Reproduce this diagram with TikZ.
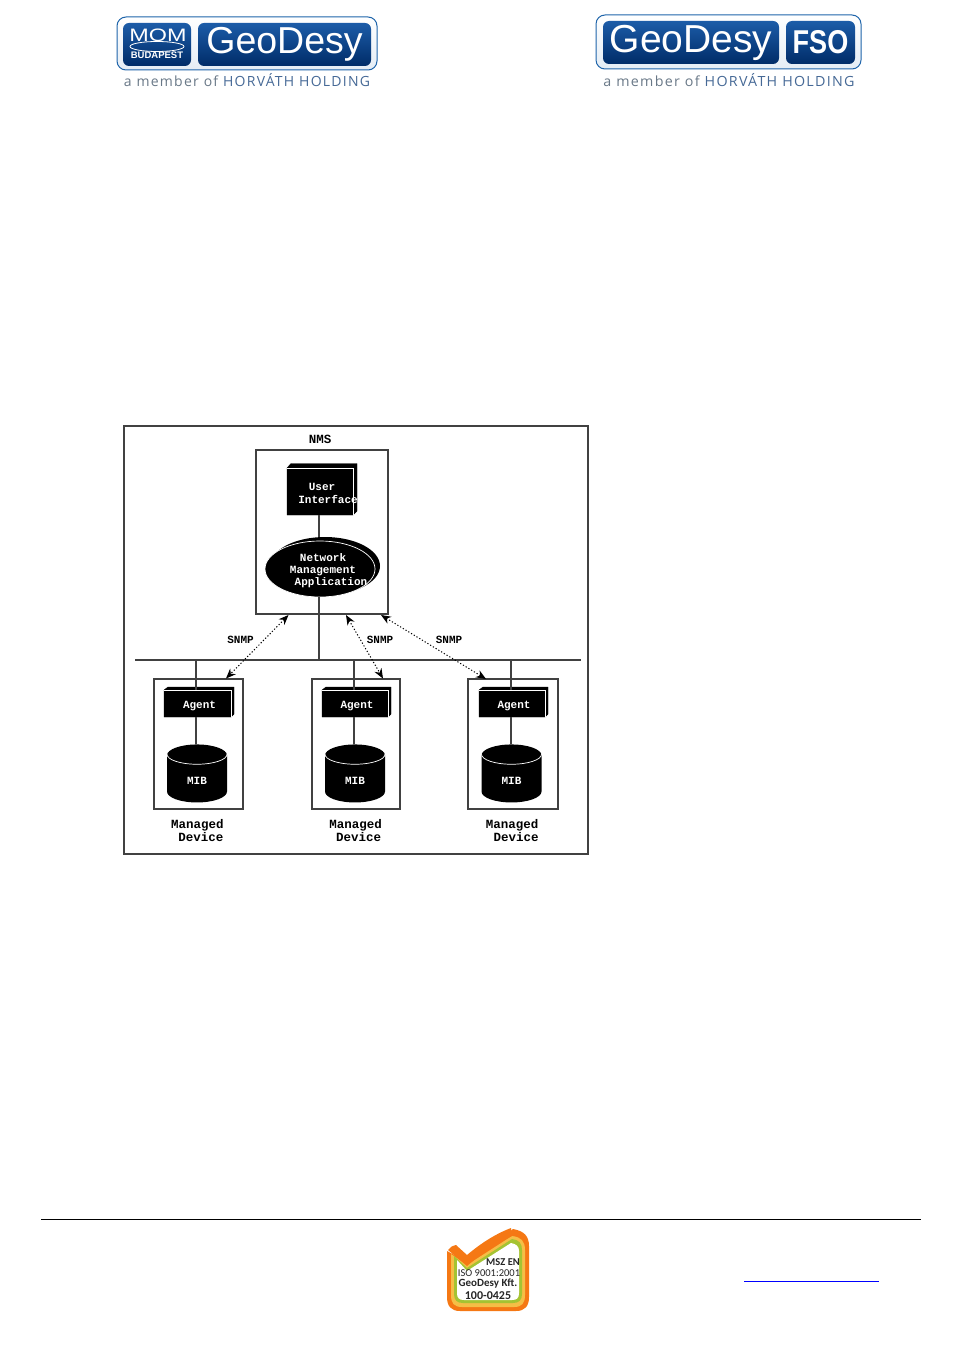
\documentclass[tikz,border=0pt]{standalone}
\usepackage{fontspec}
\setmainfont{Liberation Sans}
\setmonofont{Liberation Mono}
\newfontfamily\tagfont[LetterSpace=9]{Open Sans}
\newfontfamily\isofont{Carlito}
\usepackage{tikz}
\usetikzlibrary{positioning,arrows.meta,shapes.geometric,calc}
\usepackage{xcolor}
\definecolor{logoedge}{RGB}{30,100,170}
\definecolor{logotop}{RGB}{28,92,168}
\definecolor{logobot}{RGB}{0,44,104}
\definecolor{taggray}{RGB}{105,120,135}
\definecolor{tagblue}{RGB}{70,105,150}
\definecolor{isoorange}{RGB}{245,120,20}
\definecolor{isogreen}{RGB}{165,195,50}
\definecolor{isoyellow}{RGB}{245,190,70}
\definecolor{linkblue}{RGB}{0,0,255}
\definecolor{linegray}{RGB}{65,65,65}

\begin{document}
\begin{tikzpicture}[x=1pt,y=-1pt,
  logoframe/.style={rectangle,rounded corners=9pt,draw=logoedge,line width=1pt,
              top color=white,bottom color=logoedge!12,inner sep=0pt},
  logobox/.style={rectangle,rounded corners=6pt,top color=logotop,bottom color=logobot,
              text=white,inner sep=0pt},
  tagline/.style={font=\tagfont\fontsize{14}{15}\selectfont,inner sep=0pt},
  framebox/.style={rectangle,draw=linegray,line width=1.1pt,fill=white,inner sep=0pt},
  blackbox/.style={rectangle,fill=black,inner sep=0pt},
  blackface/.style={fill=black,draw=black,line width=0.4pt},
  rim/.style={white,line width=0.7pt},
  conn/.style={linegray,line width=1.1pt},
  snmparr/.style={{Stealth[length=10pt,width=8pt]}-{Stealth[length=10pt,width=8pt]},black,
              dash pattern=on 1.2pt off 2pt,line width=1pt},
  lbl/.style={font=\ttfamily\bfseries\fontsize{11}{12}\selectfont,inner sep=0pt,text=black},
  biglbl/.style={font=\ttfamily\bfseries\fontsize{12.5}{13}\selectfont,inner sep=0pt,text=black},
  inlbl/.style={font=\ttfamily\bfseries\fontsize{11}{12}\selectfont,inner sep=0pt,text=white},
  mibcyl/.style={cylinder,shape border rotate=90,aspect=1.1,fill=black,inner sep=0pt,
              minimum width=60pt,minimum height=58pt,font=\ttfamily\bfseries\fontsize{11}{12}\selectfont}
]
\useasboundingbox (0,0) rectangle (953,1348);
% left logo
\node[logoframe,minimum width=260pt,minimum height=53pt] (frameL) at (247,43.5) {};
\node[logobox,minimum width=68pt,minimum height=43pt] (mom) at (157,44.5) {};
\node[logobox,minimum width=173pt,minimum height=43pt,font=\fontsize{37.5}{38}\selectfont] (geoL) at (284.5,44.5) {GeoDesy};
\node[text=white,inner sep=0pt,font=\fontsize{18}{18}\selectfont] (momtxt) at (158,35) {\scalebox{1.3}[1]{MOM}};
\draw[white,line width=0.8pt] (mom.center) ++(0,2) ellipse (27 and 5);
\node[text=white,inner sep=0pt,font=\bfseries\fontsize{9.5}{10}\selectfont] (budapest) at (157,55.5) {BUDAPEST};
\node[tagline] (tagL) at (247,80) {\textcolor{taggray}{a member of} \textcolor{tagblue}{HORVÁTH HOLDING}};
% right logo
\node[logoframe,minimum width=265pt,minimum height=54pt] (frameR) at (728.5,42) {};
\node[logobox,minimum width=176pt,minimum height=43pt,font=\fontsize{39}{39}\selectfont] (geoR) at (691,42.5) {GeoDesy};
\node[logobox,minimum width=69pt,minimum height=43pt,font=\bfseries\fontsize{33}{33}\selectfont] (fso) at (820.5,42.5) {\scalebox{0.82}[1]{FSO}};
\node[tagline] (tagR) at (729,80) {\scalebox{1.02}[1]{\textcolor{taggray}{a member of} \textcolor{tagblue}{HORVÁTH HOLDING}}};
% outer frame
\node[framebox,minimum width=464pt,minimum height=428pt] (outer) at (356,640) {};
\node[biglbl] (nmslbl) at (320,439) {NMS};
% NMS
\node[framebox,minimum width=132pt,minimum height=164pt] (nms) at (322,532) {};
\fill[blackface] (287,468) -- (291,463.5) -- (357,463.5) -- (357,511) -- (353,515) -- (287,515) -- cycle;
\node[blackbox,minimum width=66pt,minimum height=47pt] (ui) at (320,491.5) {};
\draw[rim] (287,468) -- (353,468) -- (353,515);
\node[inlbl] (uitxt1) at (322,487) {User};
\node[inlbl] (uitxt2) at (328,499) {Interface};
\node[ellipse,fill=black,minimum width=110pt,minimum height=58pt,inner sep=0pt] (nmaback) at (325,566) {};
\node[ellipse,fill=black,draw=white,line width=0.7pt,minimum width=110pt,minimum height=56pt,inner sep=0pt] (nma) at (320,569) {};
\node[inlbl] (nmatxt1) at (323,558) {Network};
\node[inlbl] (nmatxt2) at (323,571) {Management};
\node[inlbl] (nmatxt3) at (331,583) {Application};
% bus
\coordinate (busL) at (135,660);
\coordinate (busR) at (581,660);
\coordinate (tapN) at (319,660);
\draw[conn] (busL) -- (busR);
\draw[conn] (tapN |- ui.south) -- (tapN |- nmaback.north);
\draw[conn] (tapN |- nma.south) -- (tapN);
% device 1
\coordinate (tap1) at (196,660);
\node[framebox,minimum width=89pt,minimum height=130pt] (dev1) at (198.5,744) {};
\fill[blackface] (164,690) -- (168,687) -- (234,687) -- (234,714) -- (231,717) -- (164,717) -- cycle;
\node[blackbox,minimum width=67pt,minimum height=27pt] (agent1) at (197.5,703.5) {};
\draw[rim] (164,690) -- (231,690) -- (231,717);
\node[inlbl] (agtxt1) at (199.5,705.5) {Agent};
\node[mibcyl] (mib1) at (197,779) {\phantom{MIB}};
\draw[rim] ($(mib1.north)+(-30,10)$) arc[start angle=180,end angle=0,x radius=30,y radius=10];
\node[inlbl] (mibtxt1) at (197,781) {MIB};
\draw[conn] (tap1) -- (tap1 |- agent1.north);
\draw[conn] (tap1 |- agent1.south) -- (tap1 |- mib1.north);
\node[biglbl] (devlbl1) at (197.5,825) {Managed};
\node[biglbl] (devlblb1) at (201,837) {Device};
% device 2
\coordinate (tap2) at (354,660);
\node[framebox,minimum width=88pt,minimum height=130pt] (dev2) at (356,744) {};
\fill[blackface] (322,690) -- (326,687) -- (391,687) -- (391,714) -- (388,717) -- (322,717) -- cycle;
\node[blackbox,minimum width=66pt,minimum height=27pt] (agent2) at (355,703.5) {};
\draw[rim] (322,690) -- (388,690) -- (388,717);
\node[inlbl] (agtxt2) at (357,705.5) {Agent};
\node[mibcyl] (mib2) at (355,779) {\phantom{MIB}};
\draw[rim] ($(mib2.north)+(-30,10)$) arc[start angle=180,end angle=0,x radius=30,y radius=10];
\node[inlbl] (mibtxt2) at (355,781) {MIB};
\draw[conn] (tap2) -- (tap2 |- agent2.north);
\draw[conn] (tap2 |- agent2.south) -- (tap2 |- mib2.north);
\node[biglbl] (devlbl2) at (355.5,825) {Managed};
\node[biglbl] (devlblb2) at (358.5,837) {Device};
% device 3
\coordinate (tap3) at (511,660);
\node[framebox,minimum width=90pt,minimum height=130pt] (dev3) at (513,744) {};
\fill[blackface] (479,690) -- (483,687) -- (548,687) -- (548,714) -- (545,717) -- (479,717) -- cycle;
\node[blackbox,minimum width=66pt,minimum height=27pt] (agent3) at (512,703.5) {};
\draw[rim] (479,690) -- (545,690) -- (545,717);
\node[inlbl] (agtxt3) at (514,705.5) {Agent};
\node[mibcyl] (mib3) at (511.5,779) {\phantom{MIB}};
\draw[rim] ($(mib3.north)+(-30,10)$) arc[start angle=180,end angle=0,x radius=30,y radius=10];
\node[inlbl] (mibtxt3) at (511.5,781) {MIB};
\draw[conn] (tap3) -- (tap3 |- agent3.north);
\draw[conn] (tap3 |- agent3.south) -- (tap3 |- mib3.north);
\node[biglbl] (devlbl3) at (512,825) {Managed};
\node[biglbl] (devlblb3) at (516,837) {Device};
% snmp arrows
\coordinate (nmsA) at (288.5,615);
\coordinate (nmsB) at (346,615);
\coordinate (nmsC) at (381,615);
\coordinate (devA) at (226,678.5);
\coordinate (devB) at (383,678.5);
\coordinate (devC) at (486,679);
\draw[snmparr] (nmsA) -- (devA);
\draw[snmparr] (nmsB) -- (devB);
\draw[snmparr] (nmsC) -- (devC);
\node[lbl] (snmpA) at (240.5,640) {SNMP};
\node[lbl] (snmpB) at (380,640) {SNMP};
\node[lbl] (snmpC) at (449,640) {SNMP};
% footer
\coordinate (ruleL) at (41,1219);
\coordinate (ruleR) at (921,1219);
\draw[black,line width=0.9pt] (ruleL) -- (ruleR);
\coordinate (linkL) at (744,1281.5);
\coordinate (linkR) at (879,1281.5);
\draw[linkblue,line width=1pt] (linkL) -- (linkR);
% iso badge
\fill[isoorange] (513,1229) .. controls (524,1231) and (529,1236) .. (529,1246) -- (529,1297)
  .. controls (529,1306) and (525,1311) .. (516,1311) -- (460,1311)
  .. controls (451,1311) and (447,1306) .. (447,1297) -- (447,1251) -- (467,1262) -- cycle;
\fill[isoyellow] (512,1236) .. controls (521,1237) and (525,1241) .. (525,1250) -- (525,1295)
  .. controls (525,1303) and (522,1307) .. (514,1307) -- (462,1307)
  .. controls (454,1307) and (451,1303) .. (451,1295) -- (451,1254) -- (467,1265) -- cycle;
\fill[isogreen] (512,1239) .. controls (519,1240) and (522,1243) .. (522,1250) -- (522,1294)
  .. controls (522,1300) and (519,1303) .. (513,1303) -- (463,1303)
  .. controls (457,1303) and (454,1300) .. (454,1294) -- (454,1256) -- (467,1268) -- cycle;
\fill[white] (511,1243) .. controls (516,1244) and (519,1246) .. (519,1251) -- (519,1293)
  .. controls (519,1298) and (517,1300) .. (512,1300) -- (464,1300)
  .. controls (459,1300) and (457,1298) .. (457,1293) -- (457,1260) -- (467,1271) -- cycle;
\fill[isoorange] (448,1250) .. controls (450,1247) and (452,1246) .. (456,1245) -- (467,1255)
  .. controls (480,1244) and (495,1234) .. (511,1228) -- (512,1236)
  .. controls (496,1243) and (481,1254) .. (467,1266) -- cycle;
\node[font=\isofont\bfseries\fontsize{10.5}{11}\selectfont,inner sep=0pt,text=black!85] (iso1) at (503,1262.5) {MSZ EN};
\node[font=\isofont\fontsize{10.5}{11}\selectfont,inner sep=0pt,text=black!85] (iso2) at (489,1273.5) {ISO 9001:2001};
\node[font=\isofont\bfseries\fontsize{11}{11}\selectfont,inner sep=0pt,text=black!85] (iso3) at (488,1284) {GeoDesy Kft.};
\node[font=\isofont\bfseries\fontsize{12}{12}\selectfont,inner sep=0pt,text=black!85] (iso4) at (488,1295.5) {100-0425};
\end{tikzpicture}
\end{document}
